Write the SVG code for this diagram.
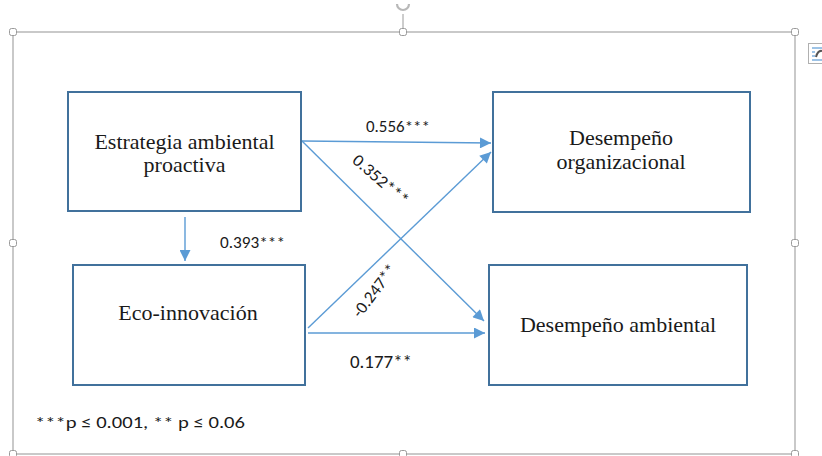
<svg xmlns="http://www.w3.org/2000/svg" width="822" height="456" viewBox="0 0 822 456">
  <style>
    .box { fill: #ffffff; stroke: #41719C; stroke-width: 2; }
    .lbl { font-family: "Times New Roman", "Liberation Serif", serif; font-size: 22px; fill: #1a1a1a; text-anchor: middle; }
    .coef { font-family: Calibri, "Liberation Sans", Arial, sans-serif; font-size: 17px; fill: #1a1a1a; }
    .edge { stroke: #5B9BD5; stroke-width: 1.4; fill: none; marker-end: url(#tri); }
    .frame { fill: none; stroke: #a6a6a6; stroke-width: 1.2; }
    .handle { fill: #ffffff; stroke: #9a9a9a; stroke-width: 1; }
  </style>
  <defs>
    <marker id="tri" viewBox="0 0 10 10" refX="10" refY="5" markerWidth="14" markerHeight="11" markerUnits="userSpaceOnUse" orient="auto">
      <path d="M0,0 L10,5 L0,10 Z" fill="#5B9BD5"/>
    </marker>
  </defs>

  <rect width="822" height="456" fill="#ffffff"/>

  <!-- selection frame with sizing handles -->
  <g id="frame">
    <rect class="frame" x="13" y="32" width="782" height="422"/>
    <line x1="403" y1="14" x2="403" y2="29" stroke="#9a9a9a" stroke-width="1"/>
    <path d="M397,4 A6,6 0 0 0 409,4" fill="none" stroke="#b8b8b8" stroke-width="2.2"/>
    <rect class="handle" x="9.5" y="28.5" width="7" height="7" rx="2"/>
    <rect class="handle" x="399.5" y="28.5" width="7" height="7" rx="2"/>
    <rect class="handle" x="791.5" y="28.5" width="7" height="7" rx="2"/>
    <rect class="handle" x="9.5" y="239.5" width="7" height="7" rx="2"/>
    <rect class="handle" x="791.5" y="239.5" width="7" height="7" rx="2"/>
    <rect class="handle" x="9.5" y="450.5" width="7" height="7" rx="2"/>
    <rect class="handle" x="399.5" y="450.5" width="7" height="7" rx="2"/>
    <rect class="handle" x="791.5" y="450.5" width="7" height="7" rx="2"/>
    <!-- layout options button -->
    <rect x="808.5" y="43.5" width="18" height="20" fill="#ffffff" stroke="#b0b0b0" stroke-width="1"/>
    <line x1="812" y1="48" x2="822" y2="48" stroke="#5B9BD5" stroke-width="1.2"/>
    <line x1="812" y1="52" x2="815" y2="52" stroke="#5B9BD5" stroke-width="1.2"/>
    <line x1="812" y1="56" x2="815" y2="56" stroke="#5B9BD5" stroke-width="1.2"/>
    <line x1="812" y1="60" x2="822" y2="60" stroke="#5B9BD5" stroke-width="1.2"/>
    <path d="M816,57 Q818,50 822,51" fill="none" stroke="#555555" stroke-width="2"/>
  </g>

  <!-- connectors -->
  <g id="connectors">
    <line class="edge" x1="302" y1="141" x2="491" y2="143"/>
    <line class="edge" x1="302" y1="141" x2="484" y2="321"/>
    <line class="edge" x1="308" y1="328" x2="491" y2="152"/>
    <line class="edge" x1="308" y1="333" x2="485" y2="333"/>
    <line class="edge" x1="185" y1="217" x2="185" y2="261"/>
    <text class="coef" x="366" y="132" textLength="64" lengthAdjust="spacingAndGlyphs">0.556***</text>
    <text class="coef" x="220" y="248" textLength="65" lengthAdjust="spacingAndGlyphs">0.393***</text>
    <text class="coef" x="350" y="368" textLength="62" lengthAdjust="spacingAndGlyphs" style="font-size:18px">0.177**</text>
    <text class="coef" text-anchor="middle" transform="translate(377,184) rotate(41)" textLength="68" lengthAdjust="spacingAndGlyphs">0.352***</text>
    <text class="coef" text-anchor="middle" transform="translate(379,294) rotate(-53)" textLength="62" lengthAdjust="spacingAndGlyphs">-0.247**</text>
  </g>

  <g id="estrategia">
    <rect class="box" x="68" y="92" width="233" height="119"/>
    <text class="lbl" x="184.5" y="149">Estrategia ambiental</text>
    <text class="lbl" x="184.5" y="172">proactiva</text>
  </g>

  <g id="desempeno-org">
    <rect class="box" x="493" y="92" width="257" height="120"/>
    <text class="lbl" x="621" y="145">Desempeño</text>
    <text class="lbl" x="621" y="169">organizacional</text>
  </g>

  <g id="eco-innovacion">
    <rect class="box" x="73" y="265" width="232" height="120"/>
    <text class="lbl" x="188" y="320">Eco-innovación</text>
  </g>

  <g id="desempeno-amb">
    <rect class="box" x="489" y="265" width="258" height="120"/>
    <text class="lbl" x="618" y="332">Desempeño ambiental</text>
  </g>

  <text x="35" y="428" font-family="Calibri, 'Liberation Sans', Arial, sans-serif" font-size="17" fill="#1a1a1a" textLength="210" lengthAdjust="spacingAndGlyphs">***p ≤ 0.001, ** p ≤ 0.06</text>
</svg>
